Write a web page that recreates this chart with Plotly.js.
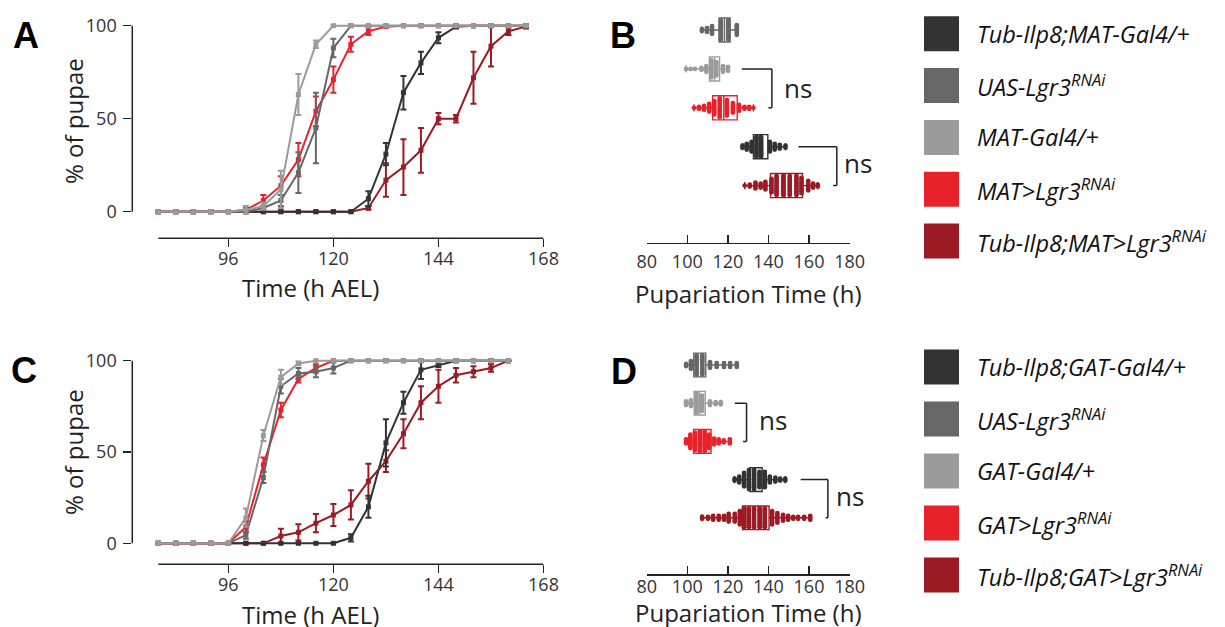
<!DOCTYPE html>
<html><head><meta charset="utf-8">
<script src="https://cdn.plot.ly/plotly-3.0.1.min.js"></script>
<style>html,body{margin:0;padding:0;background:#fff}#chart{width:1225px;height:627px}</style>
</head><body><div id="chart"></div>
<script>
// ---------------- DATA ----------------
const hoursA = [80,84,88,92,96,100,104,108,112,116,120,124,128,132,136,140,144,148,152,156,160,164];
const hoursC = [80,84,88,92,96,100,104,108,112,116,120,124,128,132,136,140,144,148,152,156,160];

// Panel A (% of pupae)
const A_tubMat      = [0,0,0,0,0,0,0,0,0,0,0,0,7,31,64,80,93.5,99.5,100,100,100,100];
const A_tubMat_err  = [null,null,null,null,null,null,null,null,null,null,null,null,4,6,9,6,3,1,null,null,null,null];
const A_uas         = [0,0,0,0,0,0,2,6,21,45,88,100,100,100,100,100,100,100,100,100,100,100];
const A_uas_err     = [null,null,null,null,null,null,1,3,11,19,5,null,null,null,null,null,null,null,null,null,null,null];
const A_mat         = [0,0,0,0,0,1,3,12,63,90,100,100,100,100,100,100,100,100,100,100,100,100];
const A_mat_err     = [null,null,null,null,null,2,2,10,11,2,null,null,null,null,null,null,null,null,null,null,null,null];
const A_matLgr      = [0,0,0,0,0,1,6,14,28,54,71,90,97,99.5,100,100,100,100,100,100,100,100];
const A_matLgr_err  = [null,null,null,null,null,1,3,5,9,8,7,4,2,null,null,null,null,null,null,null,null,null];
const A_tubMatLgr   = [0,0,0,0,0,0,0,0,0,0,0,0,2,17,24,33,50,50,72,89,97,99.5];
const A_tubMatLgr_err=[null,null,null,null,null,null,null,null,null,null,null,null,1,9,15,12,3,2,14,11,2,1];

// Panel C (% of pupae)
const C_tubGat      = [0,0,0,0,0,0,0,0,0,0,0,3,20,55,77,95,97.5,100,100,100,100];
const C_tubGat_err  = [null,null,null,null,null,null,null,null,null,null,null,2,6,13,6,5,1,null,null,null,null];
const C_uas         = [0,0,0,0,0,4.5,36,86,93,94,96,100,100,100,100,100,100,100,100,100,100];
const C_uas_err     = [null,null,null,null,null,2,3,4,3,3,3,null,null,null,null,null,null,null,null,null,null];
const C_gat         = [0,0,0,0,0,14,59,91,98.5,100,100,100,100,100,100,100,100,100,100,100,100];
const C_gat_err     = [null,null,null,null,null,5,3,4,1,null,null,null,null,null,null,null,null,null,null,null,null];
const C_gatLgr      = [0,0,0,0,0,9,43,73,90,96,100,100,100,100,100,100,100,100,100,100,100];
const C_gatLgr_err  = [null,null,null,null,null,3,4,4,2,2,null,null,null,null,null,null,null,null,null,null,null];
const C_tubGatLgr   = [0,0,0,0,0,0,0,4,6,11,15.5,21,34,45,60,77,86,92,94,96,100];
const C_tubGatLgr_err=[null,null,null,null,null,null,null,4,4.5,5,6,8,9.5,6,8,9,9,4,3,2,null];

// Panel B: pupariation time (h), dot columns (time, count) and box stats [min,q1,median,q3,max]
const B_uas_t   = [107.2,109.7,112.2,116.5,120.2,124.4];
const B_uas_n   = [2,3,5,11,11,6];
const B_uas_box = [107.2,115.7,118.3,121.1,124.4];
const B_mat_t   = [99.4,101.6,103.8,107,109.4,111.9,114.3,117.6,120.1];
const B_mat_n   = [1,1,1,2,4,10,8,4,3];
const B_mat_box = [99.4,110.9,113.5,115.9,120.1];
const B_matLgr_t   = [103.3,105.8,108.3,110.8,113.3,116,119.5,122.5,125.5,128.2,130.5,132.6];
const B_matLgr_n   = [1,2,3,5,8,11,9,6,4,2,2,1];
const B_matLgr_box = [103.3,112.5,118,124.6,132.6];
const B_tubMat_t   = [127.2,129.3,131.7,134.1,136.4,140.7,143.1,145.6,148.4];
const B_tubMat_n   = [2,4,6,11,11,6,4,3,2];
const B_tubMat_box = [127.2,132.6,135.6,139.7,148.4];
const B_tubMatLgr_t   = [128.3,130.8,133.6,136.2,138.5,141.5,144,147.3,150.5,153.8,156.3,159.6,162,164.3];
const B_tubMatLgr_n   = [1,2,4,3,5,8,11,11,11,11,9,6,3,2];
const B_tubMatLgr_box = [128.3,141,148.2,156.8,164.3];

// Panel D
const D_uas_t   = [99.4,101.8,104.6,107.4,111.2,114.5,118.1,121.1,124.4];
const D_uas_n   = [2,5,11,11,4,3,3,3,3];
const D_uas_box = [99.4,103.2,107,109.1,124.4];
const D_gat_t   = [99.4,101.8,104.5,107.2,111.2,114,116.5];
const D_gat_n   = [3,4,11,9,3,2,2];
const D_gat_box = [99.4,103.4,106,108.8,116.5];
const D_gatLgr_t   = [99.4,101.5,103.8,106.2,108.6,110.8,113.2,115.5,118,121];
const D_gatLgr_n   = [3,8,10,11,11,8,4,3,2,3];
const D_gatLgr_box = [99.4,103.1,107,111.7,121];
const D_tubGat_t   = [123.3,125.6,128,130.4,132.9,135.6,138.2,140.7,143.4,145.8,148.3];
const D_tubGat_n   = [2,4,8,11,11,9,9,4,3,2,2];
const D_tubGat_box = [123.3,130.8,133.6,136.9,148.3];
const D_tubGatLgr_t   = [107.3,110.2,112.7,115.5,118.1,120.4,123.4,125.9,128,130.3,132.9,135.7,138.2,141.8,144.4,147.2,149.7,152.2,154.6,157.6,160.6];
const D_tubGatLgr_n   = [2,2,3,3,3,5,5,8,11,11,11,11,11,8,6,4,3,2,2,2,3];
const D_tubGatLgr_box = [107.3,127.2,135,140.3,160.6];

// Labels
const namesTop = ['<i>Tub-Ilp8;MAT-Gal4/+</i>','<i>UAS-Lgr3<sup>RNAi</sup></i>','<i>MAT-Gal4/+</i>','<i>MAT&gt;Lgr3<sup>RNAi</sup></i>','<i>Tub-Ilp8;MAT&gt;Lgr3<sup>RNAi</sup></i>'];
const namesBot = ['<i>Tub-Ilp8;GAT-Gal4/+</i>','<i>UAS-Lgr3<sup>RNAi</sup></i>','<i>GAT-Gal4/+</i>','<i>GAT&gt;Lgr3<sup>RNAi</sup></i>','<i>Tub-Ilp8;GAT&gt;Lgr3<sup>RNAi</sup></i>'];
const ticksCurveX = [96,120,144,168];
const ticksCurveY = [0,50,100];
const ticksBoxX = [80,100,120,140,160,180];

// ---------------- STYLE ----------------
const W=1225, H=627;
const FONT = '"Open Sans", "DejaVu Sans", sans-serif';
const INK = '#222222';
const COL = {dark:'#333333', mid:'#676767', light:'#9b9b9b', red:'#e8222a', dred:'#9b1b24'};
const legendCols = [COL.dark, COL.mid, COL.light, COL.red, COL.dred];
const fx = p => p/W, fy = p => 1 - p/H;

function curve(xa, ya, x, y, err, color){
  return {type:'scatter', mode:'lines+markers', x:x, y:y, xaxis:xa, yaxis:ya,
    line:{color:color, width:2}, marker:{symbol:'square', size:5, color:color},
    error_y:{type:'data', array:err, visible:true, color:color, thickness:2, width:3},
    cliponaxis:false, hoverinfo:'skip', showlegend:false};
}
function dots(xa, ya, row, t, n, color, rowPx){
  const step = 1.9/rowPx, xs=[], ys=[];
  t.forEach((v,i)=>{ for(let k=0;k<n[i];k++){ xs.push(v); ys.push(row + (k-(n[i]-1)/2)*step); } });
  return {type:'scatter', mode:'markers', x:xs, y:ys, xaxis:xa, yaxis:ya,
    marker:{size:4.8, color:color, line:{width:0}}, cliponaxis:false, hoverinfo:'skip', showlegend:false};
}
function box(xa, ya, row, s, color){
  return {type:'box', orientation:'h', xaxis:xa, yaxis:ya, y:[row],
    lowerfence:[s[0]], q1:[s[1]], median:[s[2]], q3:[s[3]], upperfence:[s[4]],
    width:0.62, whiskerwidth:0.3, boxpoints:false, line:{color:color, width:1.4},
    fillcolor:'rgba(255,255,255,0)', hoverinfo:'skip', showlegend:false};
}

const rowB = 38.9, rowD = 38.2;
const traces = [
  // Panel A
  curve('x','y',hoursA,A_tubMatLgr,A_tubMatLgr_err,COL.dred),
  curve('x','y',hoursA,A_tubMat,A_tubMat_err,COL.dark),
  curve('x','y',hoursA,A_matLgr,A_matLgr_err,COL.red),
  curve('x','y',hoursA,A_uas,A_uas_err,COL.mid),
  curve('x','y',hoursA,A_mat,A_mat_err,COL.light),
  // Panel C
  curve('x3','y3',hoursC,C_tubGatLgr,C_tubGatLgr_err,COL.dred),
  curve('x3','y3',hoursC,C_tubGat,C_tubGat_err,COL.dark),
  curve('x3','y3',hoursC,C_gatLgr,C_gatLgr_err,COL.red),
  curve('x3','y3',hoursC,C_uas,C_uas_err,COL.mid),
  curve('x3','y3',hoursC,C_gat,C_gat_err,COL.light),
  // Panel B
  box('x2','y2',0,B_uas_box,COL.mid),
  box('x2','y2',1,B_mat_box,COL.light),
  box('x2','y2',2,B_matLgr_box,COL.red),
  box('x2','y2',3,B_tubMat_box,COL.dark),
  box('x2','y2',4,B_tubMatLgr_box,COL.dred),
  dots('x2','y2',0,B_uas_t,B_uas_n,COL.mid,rowB),
  dots('x2','y2',1,B_mat_t,B_mat_n,COL.light,rowB),
  dots('x2','y2',2,B_matLgr_t,B_matLgr_n,COL.red,rowB),
  dots('x2','y2',3,B_tubMat_t,B_tubMat_n,COL.dark,rowB),
  dots('x2','y2',4,B_tubMatLgr_t,B_tubMatLgr_n,COL.dred,rowB),
  // Panel D
  box('x4','y4',0,D_uas_box,COL.mid),
  box('x4','y4',1,D_gat_box,COL.light),
  box('x4','y4',2,D_gatLgr_box,COL.red),
  box('x4','y4',3,D_tubGat_box,COL.dark),
  box('x4','y4',4,D_tubGatLgr_box,COL.dred),
  dots('x4','y4',0,D_uas_t,D_uas_n,COL.mid,rowD),
  dots('x4','y4',1,D_gat_t,D_gat_n,COL.light,rowD),
  dots('x4','y4',2,D_gatLgr_t,D_gatLgr_n,COL.red,rowD),
  dots('x4','y4',3,D_tubGat_t,D_tubGat_n,COL.dark,rowD),
  dots('x4','y4',4,D_tubGatLgr_t,D_tubGatLgr_n,COL.dred,rowD)
];

const tickFont = {family:FONT, size:18, color:'#333'};
function curveX(anchor){
  return {anchor:anchor, domain:[fx(132.3), fx(543.5)], range:[80-26/4.375, 168],
    tickvals:ticksCurveX, ticks:'outside', ticklen:8, tickwidth:1.5, tickcolor:INK,
    showline:false, showgrid:false, zeroline:false, tickfont:tickFont, ticklabelstandoff:-4, fixedrange:true};
}
function curveY(anchor, top, bottom, pxPer, zeroPx){
  return {anchor:anchor, domain:[fy(bottom), fy(top)],
    range:[-(bottom-zeroPx)/pxPer, 100+(zeroPx-100*pxPer-top)/pxPer],
    tickvals:ticksCurveY, ticks:'outside', ticklen:8, tickwidth:1.5, tickcolor:INK,
    showline:false, showgrid:false, zeroline:false, tickfont:tickFont, ticklabelstandoff:3, fixedrange:true};
}
function boxX(anchor, standoff){
  return {anchor:anchor, domain:[fx(646.7), fx(849.6)], range:[80,180], tickvals:ticksBoxX,
    ticks:'inside', ticklen:8, tickwidth:1.5, tickcolor:INK, showline:true, linecolor:INK, linewidth:1.5,
    showgrid:false, zeroline:false, tickfont:tickFont, ticklabelstandoff:standoff, fixedrange:true};
}
function boxY(anchor, firstPx, axisPx, topPx, rowPx){
  return {anchor:anchor, domain:[fy(axisPx), fy(topPx)], range:[(axisPx-firstPx)/rowPx, -(firstPx-topPx)/rowPx],
    visible:false, fixedrange:true};
}

const shapes = [];
const line = (xr,yr,x0,y0,x1,y1,w)=>shapes.push({type:'line',xref:xr,yref:yr,x0,y0,x1,y1,line:{color:INK,width:w||1.5}});
// curve axis lines
line('x','y domain',80,0,168,0);
line('x domain','y',0,0,0,100);
line('x3','y3 domain',80,0,168,0);
line('x3 domain','y3',0,0,0,100);
// brackets B
line('x2','y2',126.9,1,141.7,1); line('x2','y2',141.7,1,141.7,2); line('x2','y2',140,2,141.7,2);
line('x2','y2',154.8,3,173.7,3); line('x2','y2',173.7,3,173.7,4); line('x2','y2',171.9,4,173.7,4);
// brackets D
line('x4','y4',123.4,1,129.2,1); line('x4','y4',129.2,1,129.2,2); line('x4','y4',127.5,2,129.2,2);
line('x4','y4',155.9,3,169.3,3); line('x4','y4',169.3,3,169.3,4); line('x4','y4',168.2,4,169.3,4);

const ann = [];
const txt = (x,y,text,size,opts)=>ann.push(Object.assign({xref:'paper',yref:'paper',x:fx(x),y:fy(y),text:text,showarrow:false,
   font:{family:FONT,size:size,color:'#222'},xanchor:'center',yanchor:'middle'},opts||{}));
// panel letters
const LF = {family:'"Liberation Sans", Arial, sans-serif', size:36, color:'#000'};
txt(26,35,'<b>A</b>',36,{font:LF}); txt(623,36,'<b>B</b>',36,{font:LF});
txt(24,370,'<b>C</b>',36,{font:LF}); txt(624,371,'<b>D</b>',36,{font:LF});
// axis titles
txt(74,121,'% of pupae',24,{textangle:-90});
txt(74,452,'% of pupae',24,{textangle:-90});
txt(310,288,'Time (h AEL)',24);
txt(310,614,'Time (h AEL)',24);
txt(748,293,'Pupariation Time (h)',24);
txt(748,612,'Pupariation Time (h)',24);
// ns
txt(797.5,88,'ns',26); txt(857.5,163,'ns',26);
txt(772.5,420,'ns',26); txt(850,496,'ns',26);
// legends
const LEGF = {family:FONT,size:23.5,color:'#111'};
namesTop.forEach((nm,i)=>{
  const cy = 33.8 + i*51.8;
  shapes.push({type:'rect',xref:'paper',yref:'paper',x0:fx(924),x1:fx(959),y0:fy(cy-17.5),y1:fy(cy+17.5),fillcolor:legendCols[i],line:{width:0}});
  txt(975,cy,nm,23.5,{xanchor:'left',font:LEGF});
});
namesBot.forEach((nm,i)=>{
  const cy = 367 + i*52;
  shapes.push({type:'rect',xref:'paper',yref:'paper',x0:fx(924),x1:fx(959),y0:fy(cy-17.5),y1:fy(cy+17.5),fillcolor:legendCols[i],line:{width:0}});
  txt(975,cy,nm,23.5,{xanchor:'left',font:LEGF});
});

const layout = {
  width:W, height:H, margin:{l:0,r:0,t:0,b:0}, paper_bgcolor:'#fff', plot_bgcolor:'rgba(0,0,0,0)',
  showlegend:false, font:{family:FONT},
  xaxis: curveX('y'),
  yaxis: curveY('x', 18, 238.3, 1.86, 211.7),
  xaxis3: curveX('y3'),
  yaxis3: curveY('x3', 352, 564.3, 1.826, 543.3),
  xaxis2: boxX('y2', 2),
  yaxis2: boxY('x2', 30, 242.7, 5, rowB),
  xaxis4: boxX('y4', -4),
  yaxis4: boxY('x4', 365, 574.3, 340, rowD),
  shapes:shapes, annotations:ann
};
Plotly.newPlot('chart', traces, layout, {staticPlot:true, displayModeBar:false});
</script></body></html>
